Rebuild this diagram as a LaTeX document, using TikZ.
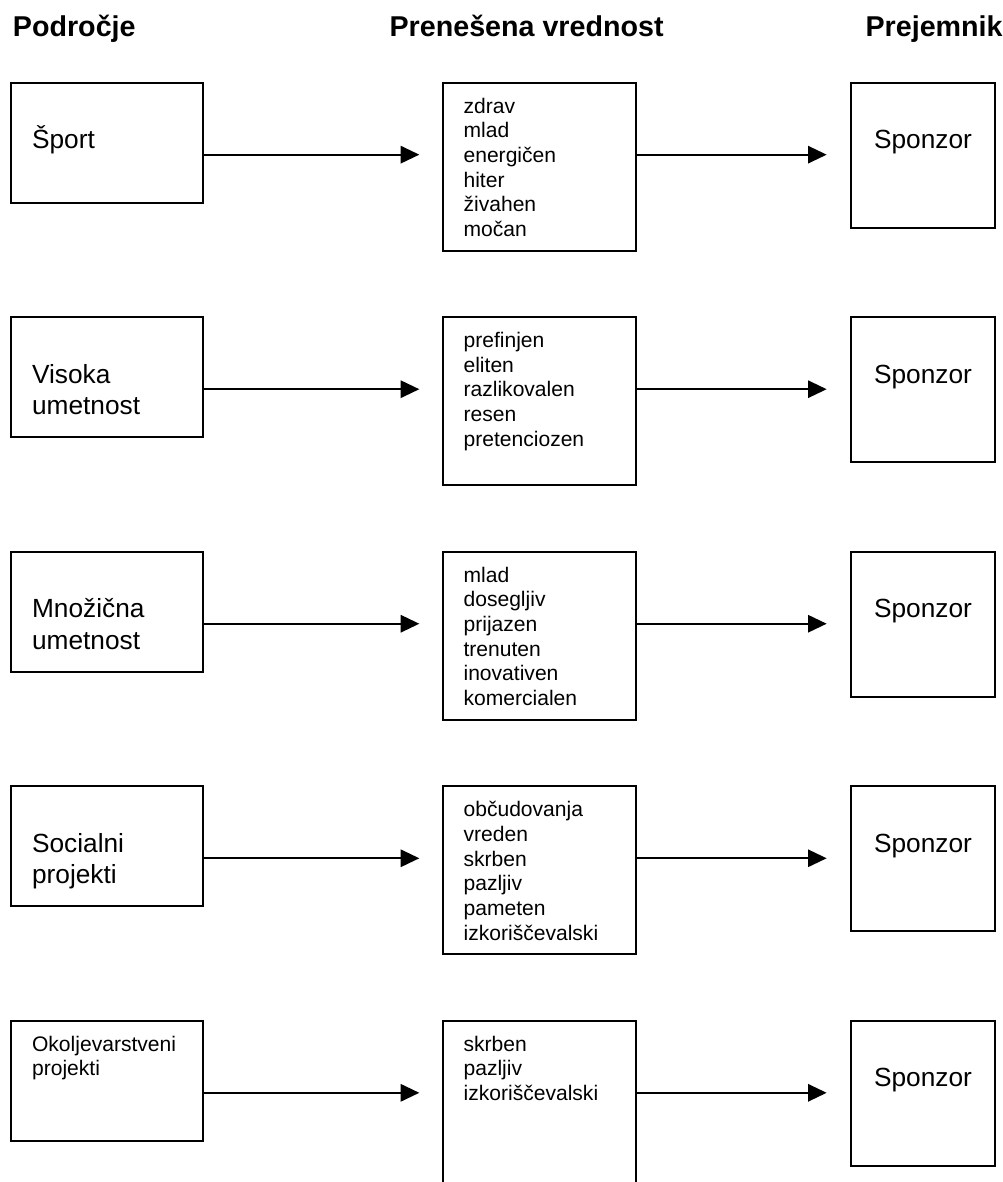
\documentclass[tikz,border=0pt]{standalone}
\usepackage{fontspec}
\setmainfont{Liberation Sans}
\usetikzlibrary{arrows.meta, positioning}
\tikzset{
  box/.style = {draw=black, line width=1.5pt, inner sep=0pt, outer sep=0pt,
    anchor=north west},
  srcbox/.style = {box, minimum width=144pt, minimum height=90pt},
  valbox/.style = {box, minimum width=144.75pt},
  recbox/.style = {box, minimum width=108.5pt, minimum height=108.75pt},
  head/.style = {anchor=base west, inner sep=0pt,
    font=\bfseries\fontsize{21.5}{26}\selectfont},
  big/.style = {anchor=base west, inner sep=0pt, text width=125pt, align=left,
    font=\fontsize{19.7}{23.5}\selectfont},
  small/.style = {anchor=base west, inner sep=0pt, text width=125pt, align=left,
    font=\fontsize{15.8}{18.5}\selectfont},
  flow/.style = {-{Triangle[length=14pt, width=13pt]}, line width=1.5pt}
}

\begin{document}
\begin{tikzpicture}
\useasboundingbox (0,0) rectangle (752.25pt,-886.5pt);
\clip (0,0) rectangle (752.25pt,-886.5pt);
\node [head] (hsrc) at (9.5pt,-27.5pt) {Področje};
\node [head] (hval) at (292pt,-27pt) {Prenešena vrednost};
\node [head] (hrec) at (649pt,-27pt) {Prejemnik};
\foreach \i/\st/\dy/\src/\vals/\vh in {
  1/big/49.5/{Šport}/{zdrav\\mlad\\energičen\\hiter\\živahen\\močan}/126,
  2/big/49.5/{Visoka\\umetnost}/{prefinjen\\eliten\\razlikovalen\\resen\\pretenciozen}/126,
  3/big/49.5/{Množična\\umetnost}/{mlad\\dosegljiv\\prijazen\\trenuten\\inovativen\\komercialen}/126,
  4/big/49.5/{Socialni\\projekti}/{občudovanja\\vreden\\skrben\\pazljiv\\pameten\\izkoriščevalski}/126,
  5/small/22.7/{Okoljevarstveni\\projekti}/{skrben\\pazljiv\\izkoriščevalski}/150}
{
  \pgfmathsetmacro\y{-62-175.9*(\i-1)}
  \node [srcbox] (src\i) at (8.25pt,\y pt) {};
  \node [valbox, minimum height=\vh pt] (val\i) at (332pt,\y pt) {};
  \node [recbox] (rec\i) at (638pt,\y pt) {};
  \node [\st] (src\i txt) at ([xshift=15.6pt, yshift=-\dy pt]src\i.north west) {\src};
  \node [small] (val\i txt) at ([xshift=15.5pt, yshift=-22.8pt]val\i.north west) {\vals};
  \node [anchor=base, inner sep=0pt, font=\fontsize{19.7}{23.5}\selectfont] (rec\i txt)
    at ([yshift=-49.5pt]rec\i.north) {Sponzor};
  \draw [flow] ([yshift=-54pt]src\i.north east) -- ([xshift=-17.5pt, yshift=-54pt]val\i.north west);
  \draw [flow] ([yshift=-54pt]val\i.north east) -- ([xshift=-18pt, yshift=-54pt]rec\i.north west);
}
\end{tikzpicture}
\end{document}
